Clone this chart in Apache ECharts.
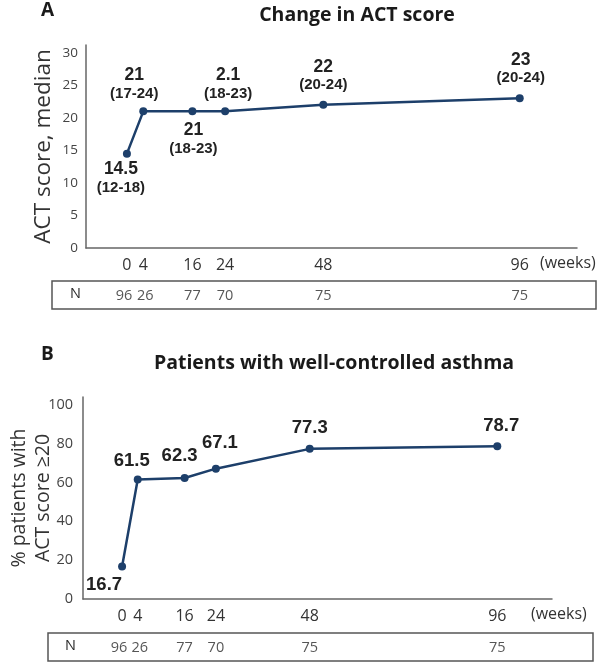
<!DOCTYPE html>
<html lang="en">
<head>
    <meta charset="UTF-8">
    <title>ACT score</title>
    <style>
        html, body { margin: 0; padding: 0; background: #fff; }
    </style>
</head>
<body>
<div id="main" style="width: 597px;height:662px;"></div>
<script src="https://cdn.jsdelivr.net/npm/echarts@6/dist/echarts.min.js"></script>
<script>
    // weeks of follow-up and number of patients at each visit
    var weeks = [0, 4, 16, 24, 48, 96];
    var nPatients = [96, 26, 77, 70, 75, 75];

    // panel A: median ACT score and its range
    var actMedian = [14.5, 21, 21, 21, 22, 23];
    var actMedianText = ['14.5', '21', '21', '2.1', '22', '23'];
    var actRange = ['(12-18)', '(17-24)', '(18-23)', '(18-23)', '(20-24)', '(20-24)'];

    // panel B: % patients with ACT score >= 20
    var wellControlled = [16.7, 61.5, 62.3, 67.1, 77.3, 78.7];

    var navy = '#1d3f6a';
    var tickFont = '"Open Sans", sans-serif';
    var labelFont = '"Liberation Sans", Arial, sans-serif';

    // where each point label sits relative to its dot
    var posA = ['bottom', 'top', 'bottom', 'top', 'top', 'top'];
    var offA = [[-6, -3], [-9, 0], [1, 0], [3, 0], [0, -1.5], [1, -2]];
    var posB = ['bottom', 'top', 'top', 'top', 'top', 'top'];
    var offB = [[-18, 0], [-6, 0], [-5, -4], [4, -7], [0, -2], [4, -2]];
    // the N values at week 0 and 4 are nudged apart a little
    var offN = [[-3, 1], [2, 1], [0, 1], [0, 1], [0, 1], [0, 1]];

    function pairs(ys) {
        return weeks.map(function (w, i) { return [w, ys[i]]; });
    }

    var dataA = pairs(actMedian).map(function (p, i) {
        return {
            value: p,
            label: {
                position: posA[i],
                offset: offA[i],
                formatter: '{v|' + actMedianText[i] + '}\n{r|' + actRange[i] + '}'
            }
        };
    });
    var dataB = pairs(wellControlled).map(function (p, i) {
        return {
            value: p,
            label: {
                position: posB[i],
                offset: offB[i],
                formatter: '{v|' + wellControlled[i] + '}'
            }
        };
    });
    var dataN = weeks.map(function (w, i) {
        return {value: [w, 0], label: {formatter: String(nPatients[i]), offset: offN[i]}};
    });

    function weekAxis(grid) {
        return {
            type: 'value', gridIndex: grid, min: -10, max: 110,
            axisLine: {show: true, onZero: false, lineStyle: {color: '#666', width: 1.5}},
            axisTick: {show: false},
            splitLine: {show: false},
            axisLabel: {
                customValues: weeks, hideOverlap: false,
                color: '#333', fontFamily: tickFont, fontSize: 16, margin: 9
            }
        };
    }
    function hiddenX(grid) {
        return {type: 'value', gridIndex: grid, min: -10, max: 110, show: false};
    }
    function hiddenY(grid) {
        return {type: 'value', gridIndex: grid, min: -1, max: 1, show: false};
    }
    function nSeries(axis) {
        return {
            type: 'scatter', xAxisIndex: axis, yAxisIndex: axis, data: dataN,
            symbolSize: 0, silent: true,
            label: {show: true, position: 'inside', color: '#2a2a2a', fontFamily: tickFont, fontSize: 14.5}
        };
    }

    var labelRich = {
        v: {fontFamily: labelFont, fontWeight: 'bold', fontSize: 17.5, color: '#222', lineHeight: 19, align: 'center'},
        r: {fontFamily: labelFont, fontWeight: 'bold', fontSize: 15, color: '#222', lineHeight: 18, align: 'center'}
    };
    var labelRichB = {
        v: {fontFamily: labelFont, fontWeight: 'bold', fontSize: 18.5, color: '#222', lineHeight: 19, align: 'center'}
    };

    var myChart = echarts.init(document.getElementById('main'));
    var option = {
        animation: false,
        backgroundColor: '#fff',
        title: [
            {text: 'Change in ACT score', left: 352, top: 0, textAlign: 'center',
                textStyle: {fontFamily: tickFont, fontWeight: 'bold', fontSize: 19.5, color: '#1a1a1a'}},
            {text: 'Patients with well-controlled asthma', left: 329, top: 348, textAlign: 'center',
                textStyle: {fontFamily: tickFont, fontWeight: 'bold', fontSize: 19.5, color: '#1a1a1a'}}
        ],
        grid: [
            {left: 86, right: 20, top: 45, height: 203, outerBoundsMode: 'none', containLabel: false},
            {left: 83, right: 45, top: 397, height: 202, outerBoundsMode: 'none', containLabel: false},
            {left: 86, right: 20, top: 281, height: 28, outerBoundsMode: 'none', containLabel: false},
            {left: 83, right: 45, top: 633, height: 28, outerBoundsMode: 'none', containLabel: false}
        ],
        xAxis: [weekAxis(0), weekAxis(1), hiddenX(2), hiddenX(3)],
        yAxis: [
            {
                type: 'value', gridIndex: 0, min: 0, max: 31.2, interval: 5,
                name: 'ACT score, median', nameLocation: 'middle', nameGap: 31, nameMoveOverlap: false,
                nameTextStyle: {fontFamily: tickFont, fontSize: 22.5, color: '#333'},
                axisLine: {show: true, onZero: false, lineStyle: {color: '#666', width: 1.5}},
                axisTick: {show: false}, splitLine: {show: false},
                axisLabel: {showMaxLabel: false, color: '#444', fontFamily: tickFont, fontSize: 13.5, margin: 8,
                    formatter: function (v) { return v % 5 === 0 ? v : ''; }}
            },
            {
                type: 'value', gridIndex: 1, min: 0, max: 104, interval: 20,
                name: '% patients with\nACT score \u226520', nameLocation: 'middle', nameGap: 28, nameMoveOverlap: false,
                nameTextStyle: {fontFamily: tickFont, fontSize: 19.5, color: '#333', lineHeight: 24},
                axisLine: {show: true, onZero: false, lineStyle: {color: '#666', width: 1.5}},
                axisTick: {show: false}, splitLine: {show: false},
                axisLabel: {showMaxLabel: false, color: '#444', fontFamily: tickFont, fontSize: 14.5, margin: 10,
                    formatter: function (v) { return v % 20 === 0 ? v : ''; }}
            },
            hiddenY(2), hiddenY(3)
        ],
        graphic: [
            {type: 'text', left: 41, top: 1, style: {text: 'A', font: 'bold 19px "Open Sans", sans-serif', fill: '#1a1a1a'}},
            {type: 'text', left: 41, top: 345, style: {text: 'B', font: 'bold 19px "Open Sans", sans-serif', fill: '#1a1a1a'}},
            {type: 'text', left: 540, top: 255, style: {text: '(weeks)', font: '16px "Open Sans", sans-serif', fill: '#333'}},
            {type: 'text', left: 531, top: 606, style: {text: '(weeks)', font: '16px "Open Sans", sans-serif', fill: '#333'}},
            {type: 'rect', shape: {x: 52, y: 281, width: 544, height: 28},
                style: {fill: 'none', stroke: '#555', lineWidth: 1.5}},
            {type: 'rect', shape: {x: 48, y: 633, width: 545, height: 28},
                style: {fill: 'none', stroke: '#555', lineWidth: 1.5}},
            {type: 'text', left: 70, top: 286, style: {text: 'N', font: '14.5px "Open Sans", sans-serif', fill: '#2a2a2a'}},
            {type: 'text', left: 65, top: 638, style: {text: 'N', font: '14.5px "Open Sans", sans-serif', fill: '#2a2a2a'}}
        ],
        series: [
            {
                type: 'line', xAxisIndex: 0, yAxisIndex: 0, data: dataA,
                symbol: 'circle', symbolSize: 8,
                lineStyle: {color: navy, width: 2.5},
                itemStyle: {color: navy},
                label: {show: true, distance: 5, rich: labelRich}
            },
            {
                type: 'line', xAxisIndex: 1, yAxisIndex: 1, data: dataB,
                symbol: 'circle', symbolSize: 8,
                lineStyle: {color: navy, width: 2.5},
                itemStyle: {color: navy},
                label: {show: true, distance: 5, rich: labelRichB}
            },
            nSeries(2),
            nSeries(3)
        ]
    };
    myChart.setOption(option);
</script>
</body>
</html>
